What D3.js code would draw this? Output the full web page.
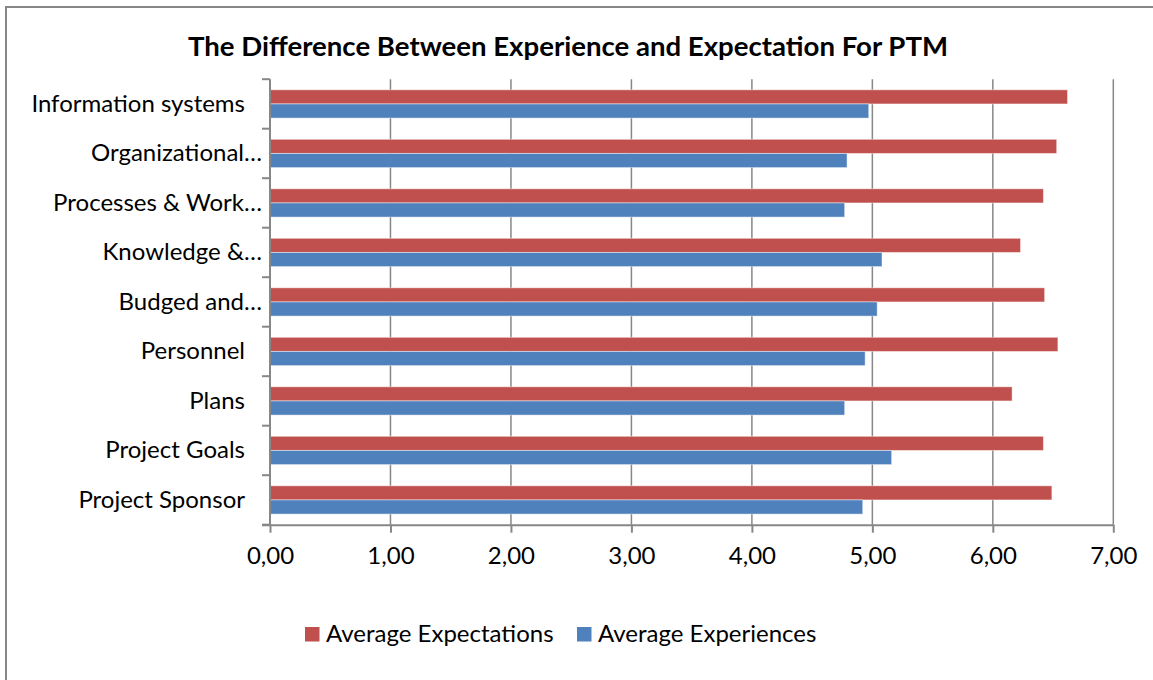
<!DOCTYPE html>
<html>
<head>
<meta charset="utf-8">
<script src="https://cdn.jsdelivr.net/npm/d3@7"></script>
<style>
  html, body { margin: 0; padding: 0; background: #fff; }
  svg { display: block; }
  text { font-family: Lato, "Open Sans", sans-serif; fill: #000; }
</style>
</head>
<body>
<svg id="chart" width="1153" height="680"></svg>
<script>
// Categories, top to bottom as they appear on the chart
const categories = [
  "Information systems",
  "Organizational…",
  "Processes & Work…",
  "Knowledge &…",
  "Budged and…",
  "Personnel",
  "Plans",
  "Project Goals",
  "Project Sponsor"
];
const expectations = [6.62, 6.53, 6.42, 6.23, 6.43, 6.54, 6.16, 6.42, 6.49];
const experiences  = [4.97, 4.79, 4.77, 5.08, 5.04, 4.94, 4.77, 5.16, 4.92];
const seriesNames  = ["Average Expectations", "Average Experiences"];
const seriesColors = ["#C0504D", "#4F81BD"];
const xTicks = [0, 1, 2, 3, 4, 5, 6, 7];
const xTickLabels = ["0,00", "1,00", "2,00", "3,00", "4,00", "5,00", "6,00", "7,00"];
const title = "The Difference Between Experience and Expectation For PTM";

const svg = d3.select("#chart");
const plot = { left: 270, right: 1113.3, top: 79.2, bottom: 524.7 };
const axisGrey = "#878787";
const labelSize = 24;

// chart frame
svg.append("rect")
  .attr("x", 6).attr("y", 7).attr("width", 1200).attr("height", 720)
  .attr("fill", "#fff").attr("stroke", axisGrey).attr("stroke-width", 2);

// title
svg.append("text")
  .attr("x", 568).attr("y", 56)
  .attr("text-anchor", "middle")
  .attr("font-size", 27).attr("font-weight", "bold")
  .attr("textLength", 760).attr("lengthAdjust", "spacingAndGlyphs")
  .text(title);

const x = d3.scaleLinear().domain([0, 7]).range([plot.left, plot.right]);
const y = d3.scaleBand().domain(categories).range([plot.top, plot.bottom]).padding(0);
const barH = y.bandwidth() / 3.5;           // 150% gap width between groups
const ySub = d3.scaleBand().domain(seriesNames)
  .range([(y.bandwidth() - 2 * barH) / 2, (y.bandwidth() + 2 * barH) / 2]);

// vertical gridlines
svg.append("g").selectAll("line")
  .data(xTicks.filter(t => t > 0))
  .join("line")
  .attr("x1", d => x(d)).attr("x2", d => x(d))
  .attr("y1", plot.top).attr("y2", plot.bottom)
  .attr("stroke", axisGrey).attr("stroke-width", 1.5);

// bars
const rows = categories.map((c, i) => ({ c, vals: [expectations[i], experiences[i]] }));
const groups = svg.append("g").selectAll("g")
  .data(rows).join("g")
  .attr("transform", d => `translate(0,${y(d.c)})`);
groups.selectAll("rect")
  .data(d => d.vals.map((v, k) => ({ v, k })))
  .join("rect")
  .attr("x", x(0))
  .attr("y", d => ySub(seriesNames[d.k]))
  .attr("width", d => x(d.v) - x(0))
  .attr("height", barH)
  .attr("fill", d => seriesColors[d.k])
  .attr("stroke", "rgba(255,255,255,0.45)")
  .attr("stroke-width", 1);

// x axis
const xAxis = d3.axisBottom(x).tickValues(xTicks)
  .tickFormat((d, i) => xTickLabels[i]).tickSize(8).tickSizeOuter(0).tickPadding(9);
const gx = svg.append("g").attr("transform", `translate(0,${plot.bottom})`).call(xAxis);
gx.select(".domain").attr("stroke", axisGrey).attr("stroke-width", 2)
  .attr("d", `M${plot.left - 8},0.5H${plot.right}`);
gx.selectAll(".tick line").attr("stroke", axisGrey).attr("stroke-width", 2);
gx.selectAll(".tick text").attr("font-size", labelSize).attr("font-family", "Lato, sans-serif")
  .attr("fill", "#000").attr("dy", "0.95em");

// y axis: boundary ticks between categories
const boundaries = d3.range(categories.length + 1).map(i => plot.top + i * y.step());
svg.append("line")
  .attr("x1", plot.left).attr("x2", plot.left)
  .attr("y1", plot.top).attr("y2", plot.bottom)
  .attr("stroke", axisGrey).attr("stroke-width", 2);
svg.append("g").selectAll("line")
  .data(boundaries).join("line")
  .attr("x1", plot.left - 8).attr("x2", plot.left)
  .attr("y1", d => d).attr("y2", d => d)
  .attr("stroke", axisGrey).attr("stroke-width", 2);

// category labels; complete names sit a little further from the axis than truncated ones
svg.append("g").selectAll("text")
  .data(categories).join("text")
  .attr("x", d => d.endsWith("…") ? plot.left - 8 : plot.left - 25)
  .attr("y", d => y(d) + y.bandwidth() / 2)
  .attr("dy", "0.33em")
  .attr("text-anchor", "end")
  .attr("font-size", labelSize)
  .text(d => d);

// legend
const legendItems = [
  { name: seriesNames[0], color: seriesColors[0], x: 305 },
  { name: seriesNames[1], color: seriesColors[1], x: 577 }
];
const lg = svg.append("g").selectAll("g").data(legendItems).join("g")
  .attr("transform", d => `translate(${d.x},627)`);
lg.append("rect").attr("width", 14.5).attr("height", 14.5).attr("fill", d => d.color);
lg.append("text").attr("x", 21).attr("y", 7.5).attr("dy", "0.32em")
  .attr("font-size", labelSize).text(d => d.name);
</script>
</body>
</html>
